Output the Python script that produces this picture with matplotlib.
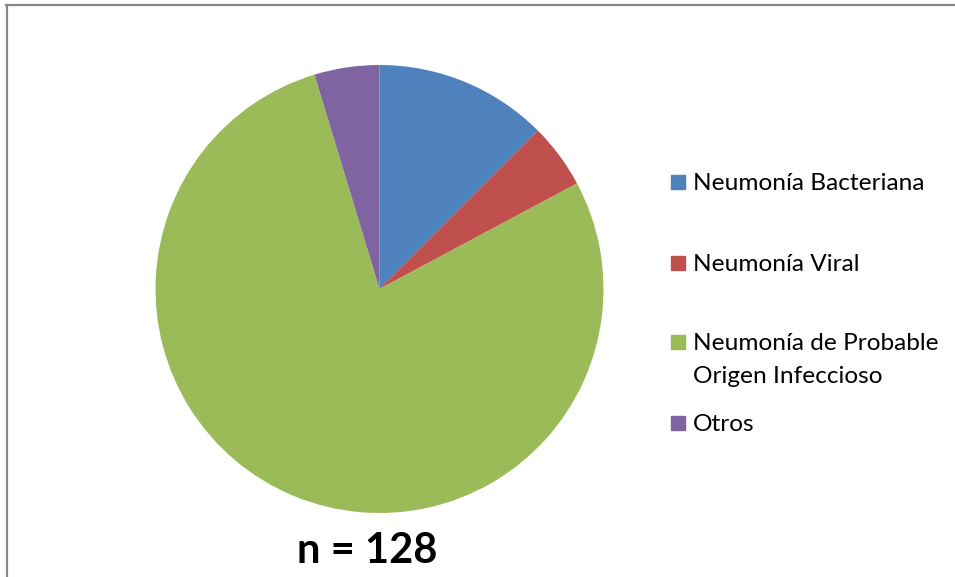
import matplotlib.pyplot as plt
from matplotlib.patches import Rectangle
from matplotlib.lines import Line2D

plt.rcParams['font.family'] = ['Lato', 'DejaVu Sans']

labels = ['Neumonía Bacteriana', 'Neumonía Viral',
          'Neumonía de Probable\nOrigen Infeccioso', 'Otros']
counts = [16, 6, 100, 6]
colors = ['#4F81BD', '#C0504D', '#9BBB59', '#8064A2']
total_n = 128

W, H = 955, 577
fig = plt.figure(figsize=(W / 100, H / 100), dpi=100)

# pie axes: centre (379, 289), radius 224 px
cx, cy, r = 379.5, 289, 224
ax = fig.add_axes([(cx - r) / W, (H - cy - r) / H, 2 * r / W, 2 * r / H])
ax.pie(counts, colors=colors, startangle=90, counterclock=False,
       radius=1, wedgeprops=dict(linewidth=0))
ax.set_xlim(-1, 1)
ax.set_ylim(-1, 1)
ax.set_aspect('equal')
ax.axis('off')

# legend drawn by hand (uneven spacing in the original)
leg_y = [182, 263, 342, 423]
line_h = 33
for lab, col, y in zip(labels, colors, leg_y):
    fig.patches.append(Rectangle((671 / W, 1 - (y + 7) / H), 14 / W, 14 / H,
                                 transform=fig.transFigure, color=col))
    for i, part in enumerate(lab.split('\n')):
        fig.text(693 / W, 1 - (y + 8 + i * line_h) / H, part, fontsize=17.6,
                 va='baseline', ha='left')

fig.text(367 / W, 1 - 551 / H, f'n = {total_n}', fontsize=30, fontweight='bold',
         ha='center', va='center')

# top and left frame lines only
fig.lines.append(Line2D([6 / W, 1], [1 - 5 / H, 1 - 5 / H], transform=fig.transFigure,
                        color='#888888', linewidth=1.6))
fig.lines.append(Line2D([7 / W, 7 / W], [0, 1 - 5 / H], transform=fig.transFigure,
                        color='#888888', linewidth=1.6))

fig.savefig('out.png', dpi=100)
